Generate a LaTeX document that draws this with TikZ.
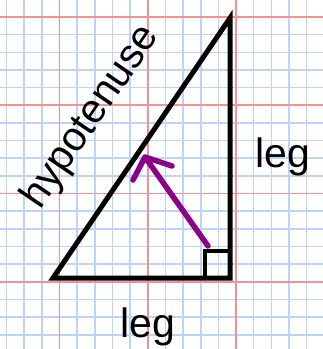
\documentclass[tikz,border=0pt]{standalone}
\usepackage{fontspec}
\setmainfont{Liberation Sans}
\usepackage{xcolor}
\usepackage{tikz}
\definecolor{gridblue}{RGB}{188,212,245}
\definecolor{gridred}{RGB}{245,145,145}
\definecolor{penpurple}{RGB}{139,0,139}
\begin{document}
\begin{tikzpicture}[x=1pt,y=-1pt,
  minorline/.style={gridblue,line width=1.6pt},
  majorline/.style={gridred,line width=1.6pt},
  legline/.style={line width=5pt,line join=miter},
  wordlabel/.style={inner sep=0pt,font=\fontsize{41}{49}\selectfont}]
\useasboundingbox (0,0) rectangle (323,349);
\begin{scope}
\clip (0,0) rectangle (323,349);
\foreach \i in {-4,...,15}
  \draw[minorline] ({59.5+17.65*\i},-5) -- ++(0,360);
\foreach \i in {-1,...,19}
  \draw[minorline] (-5,{17+17.65*\i}) -- ++(335,0);
\foreach \i in {0,1,2}
  \draw[majorline] ({59.5+88.25*\i},-5) -- ++(0,360);
\foreach \i in {0,...,3}
  \draw[majorline] (-5,{17+88.25*\i}) -- ++(335,0);
\end{scope}
% triangle
\coordinate (A) at (53,278);
\coordinate (B) at (230,278);
\coordinate (C) at (230,18);
\draw[legline] (A)--(B)--(C)--cycle;
\draw[line width=4pt] (205,278)--(205,251)--(230,251);
% labels
\node[wordlabel,anchor=base] (bottomleg) at (147.5,337) {leg};
\node[wordlabel,anchor=base] (rightleg) at (282.5,167) {leg};
\node[wordlabel,anchor=base,rotate=55.75] (hyp) at (100,123) {hypotenuse};
% arrow
\coordinate (tail) at (208,246);
\coordinate (tip) at (145,157);
\draw[penpurple,line width=5.5pt,line cap=round,line join=round]
  (tail)--(tip) (133,180)--(tip)--(172,166);
\end{tikzpicture}
\end{document}
